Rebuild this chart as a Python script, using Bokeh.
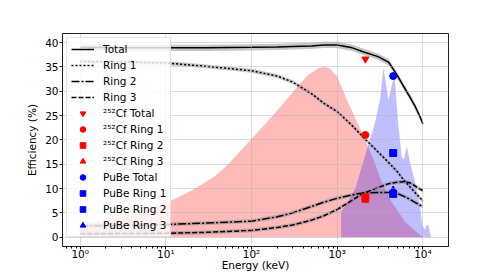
from bokeh.plotting import figure
from bokeh.models import (Range1d, Legend, LegendItem, CustomJSTickFormatter,
                          SingleIntervalTicker, ColumnDataSource)
from bokeh.embed import file_html
from bokeh.resources import INLINE

# ---------------- data ----------------
energy_keV = [1, 3, 10, 30, 100, 200, 300, 500, 700, 1000, 1500, 2000,
              3000, 4000, 5000, 6000, 7000, 8000, 9000, 10000]
eff_total = [39.0, 38.9, 38.9, 38.9, 39.0, 39.1, 39.2, 39.3, 39.5, 39.5, 38.9, 38.1,
             37.1, 35.9, 33.3, 30.9, 28.9, 27.1, 25.2, 23.3]
eff_ring1 = [36.1, 36.0, 35.8, 35.1, 34.2, 33.1, 31.9, 29.5, 27.5, 25.8, 22.9, 20.6,
             17.5, 15.3, 13.5, 11.7, 10.4, 9.3, 8.3, 7.4]
eff_ring2 = [2.3, 2.4, 2.6, 2.9, 3.3, 4.2, 5.0, 6.3, 7.2, 8.0, 8.7, 9.1,
             9.2, 9.2, 9.0, 8.4, 7.8, 7.2, 6.7, 6.3]
eff_ring3 = [0.7, 0.75, 0.8, 1.0, 1.4, 2.0, 2.5, 3.5, 4.4, 5.7, 7.6, 9.0,
             10.2, 11.0, 11.3, 11.4, 11.2, 10.6, 10.0, 9.6]
unc_total = 0.65
unc_ring = 0.4

cf_energy = [1, 2, 5, 10, 20, 36, 50, 100, 216, 337, 450, 600, 703, 826, 1000,
             1350, 2000, 2540, 3320, 4330, 6210, 8900, 10000]
cf_spectrum = [2.5, 3.4, 5.0, 7.0, 9.6, 12.3, 14.5, 20.2, 26.7, 30.8, 33.2, 34.7, 35.0, 34.6, 33.0,
               27.5, 21.0, 16.8, 11.3, 7.2, 3.1, 0.7, 0.0]
pube_energy = [1110, 1620, 2120, 2420, 2770, 3170, 3460, 3960, 4650, 5170, 5670,
               6000, 6490, 7090, 8110, 9270, 9860, 10600, 11100, 11600, 12460]
pube_spectrum = [5.1, 9.9, 16.8, 20.2, 23.6, 28.4, 34.8, 28.2, 33.5, 23.0, 16.5,
                 16.0, 18.7, 15.3, 11.3, 6.3, 2.4, 1.6, 2.6, 2.4, 0.0]

meas_labels = ["Total", "Ring 1", "Ring 2", "Ring 3"]
cf_mean_energy = 2130
cf_eff = [36.6, 21.0, 8.2, 7.6]
pube_mean_energy = 4500
pube_eff = [33.1, 17.3, 8.9, 9.7]
cf_markers = ["inverted_triangle", "circle", "square", "triangle"]
pube_markers = ["circle", "square", "square", "triangle"]

FONT = "DejaVu Sans"
FS = "10.5px"

p = figure(width=498, height=277, x_axis_type="log",
           x_range=Range1d(0.622, 19890), y_range=Range1d(-1.91, 41.85),
           output_backend="svg", toolbar_location=None,
           min_border_left=62, min_border_right=50, min_border_top=33, min_border_bottom=31)
p.background_fill_color = "white"
p.border_fill_color = "white"
p.outline_line_color = "#222222"
p.outline_line_width = 1

# spectra fills
p.varea(x=cf_energy, y1=[0] * len(cf_energy), y2=cf_spectrum,
        fill_color="#ff0000", fill_alpha=0.27, level="underlay")
p.varea(x=pube_energy, y1=[0] * len(pube_energy), y2=pube_spectrum,
        fill_color="#0000ff", fill_alpha=0.25, level="underlay")

# grid
for g in (p.xgrid, p.ygrid):
    g.grid_line_color = "#b0b0b0"
    g.grid_line_alpha = 0.45
    g.grid_line_width = 1
    g.level = "glyph"
p.xgrid.minor_grid_line_color = None

# bands + lines
curves = [
    (eff_total, unc_total, "solid", "Total"),
    (eff_ring1, unc_ring, "2 2", "Ring 1"),
    (eff_ring2, unc_ring, "8 2 2 2", "Ring 2"),
    (eff_ring3, unc_ring, "5 2", "Ring 3"),
]
line_rs = []
for vals, u, dash, lab in curves:
    p.varea(x=energy_keV, y1=[v - u for v in vals], y2=[v + u for v in vals],
            fill_color="gray", fill_alpha=0.45)
for vals, u, dash, lab in curves:
    r = p.line(energy_keV, vals, line_color="black", line_width=1.5, line_dash=dash)
    line_rs.append((lab, r))

# measured points
point_items = []
def add_points(xe, effs, markers, color, prefix):
    for lab, e, m in zip(meas_labels, effs, markers):
        src = ColumnDataSource(dict(x=[xe], y=[e]))
        rm = p.scatter("x", "y", source=src, marker=m, size=7,
                       fill_color=color, line_color=color)
        point_items.append((prefix + lab, [rm]))

add_points(cf_mean_energy, cf_eff, cf_markers, "#ff0000", "\u00b2\u2075\u00b2Cf ")
add_points(pube_mean_energy, pube_eff, pube_markers, "#0000ff", "PuBe ")

items = [LegendItem(label=lab, renderers=[r]) for lab, r in line_rs]
items += [LegendItem(label=lab, renderers=rs) for lab, rs in point_items]
legend = Legend(items=items, location="top_left", margin=4, padding=4, spacing=2,
                glyph_width=23, glyph_height=14, label_height=14, label_standoff=9,
                label_text_font=FONT, label_text_font_size=FS, label_text_color="black",
                background_fill_color="white", background_fill_alpha=0.8,
                border_line_color="#cccccc", border_line_width=1)
p.add_layout(legend)

# axes
p.xaxis.formatter = CustomJSTickFormatter(code="""
const sup = {"0":"\u2070","1":"\u00b9","2":"\u00b2","3":"\u00b3","4":"\u2074",
             "5":"\u2075","6":"\u2076","7":"\u2077","8":"\u2078","9":"\u2079","-":"\u207b"};
const e = Math.round(Math.log10(tick));
return "10" + String(e).split("").map(c => sup[c]).join("");
""")
p.yaxis.ticker = SingleIntervalTicker(interval=5)
p.xaxis.axis_label = "Energy (keV)"
p.yaxis.axis_label = "Efficiency (%)"
for ax in (p.xaxis, p.yaxis):
    ax.axis_label_text_font = FONT
    ax.axis_label_text_font_size = FS
    ax.axis_label_text_font_style = "normal"
    ax.axis_label_text_color = "black"
    ax.major_label_text_font = FONT
    ax.major_label_text_font_size = FS
    ax.major_label_text_color = "black"
    ax.axis_line_color = "#222222"
    ax.major_tick_line_color = "#222222"
    ax.major_tick_out = 3
    ax.major_tick_in = 0
    ax.minor_tick_out = 2
    ax.minor_tick_in = 0
p.yaxis.minor_tick_line_color = None
p.xaxis.major_label_standoff = -2
p.xaxis.axis_label_standoff = -4
p.yaxis.major_label_standoff = 1
p.yaxis.axis_label_standoff = 4

open("out.html", "w").write(file_html(p, INLINE))
